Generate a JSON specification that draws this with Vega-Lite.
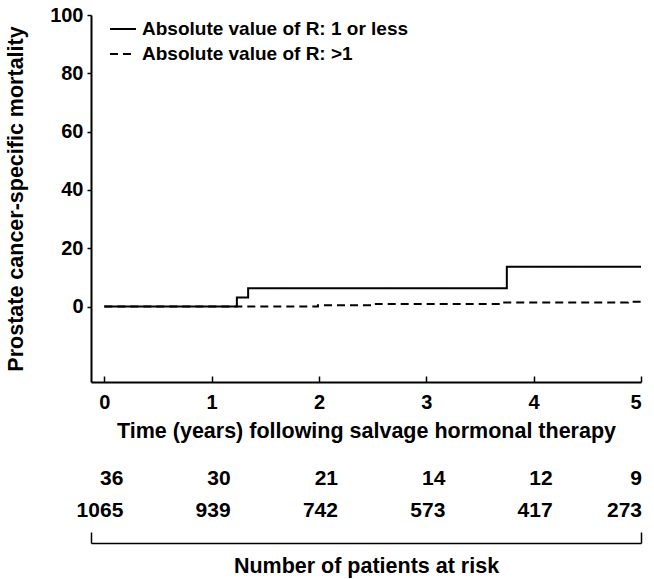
{
  "$schema": "https://vega.github.io/schema/vega-lite/v6.json",
  "background": "white",
  "padding": 5,
  "config": {
    "font": "Liberation Sans",
    "view": {"stroke": null},
    "concat": {"spacing": 5},
    "axis": {
      "labelFont": "Liberation Sans",
      "titleFont": "Liberation Sans",
      "labelFontWeight": "bold",
      "titleFontWeight": "bold",
      "labelColor": "black",
      "titleColor": "black",
      "domainColor": "black",
      "tickColor": "black",
      "grid": false,
      "domainWidth": 2,
      "tickWidth": 1.5
    }
  },
  "datasets": {
    "curves": [
      {"t": 0, "m": 0, "group": "Absolute value of R: 1 or less"},
      {"t": 1.235, "m": 3.1, "group": "Absolute value of R: 1 or less"},
      {"t": 1.34, "m": 6.3, "group": "Absolute value of R: 1 or less"},
      {"t": 3.75, "m": 13.6, "group": "Absolute value of R: 1 or less"},
      {"t": 5, "m": 13.6, "group": "Absolute value of R: 1 or less"},
      {"t": 0, "m": 0, "group": "Absolute value of R: >1"},
      {"t": 1.99, "m": 0.45, "group": "Absolute value of R: >1"},
      {"t": 2.53, "m": 0.9, "group": "Absolute value of R: >1"},
      {"t": 3.7, "m": 1.4, "group": "Absolute value of R: >1"},
      {"t": 4.88, "m": 1.6, "group": "Absolute value of R: >1"},
      {"t": 5, "m": 1.6, "group": "Absolute value of R: >1"}
    ],
    "risk": [
      {"t": 0, "n": 36, "group": "Absolute value of R: 1 or less"},
      {"t": 1, "n": 30, "group": "Absolute value of R: 1 or less"},
      {"t": 2, "n": 21, "group": "Absolute value of R: 1 or less"},
      {"t": 3, "n": 14, "group": "Absolute value of R: 1 or less"},
      {"t": 4, "n": 12, "group": "Absolute value of R: 1 or less"},
      {"t": 5, "n": 9, "group": "Absolute value of R: 1 or less"},
      {"t": 0, "n": 1065, "group": "Absolute value of R: >1"},
      {"t": 1, "n": 939, "group": "Absolute value of R: >1"},
      {"t": 2, "n": 742, "group": "Absolute value of R: >1"},
      {"t": 3, "n": 573, "group": "Absolute value of R: >1"},
      {"t": 4, "n": 417, "group": "Absolute value of R: >1"},
      {"t": 5, "n": 273, "group": "Absolute value of R: >1"}
    ]
  },
  "vconcat": [
    {
      "width": 550,
      "height": 367,
      "data": {"name": "curves"},
      "mark": {"type": "line", "interpolate": "step-after", "color": "black", "strokeWidth": 2},
      "encoding": {
        "x": {
          "field": "t",
          "type": "quantitative",
          "title": "Time (years) following salvage hormonal therapy",
          "scale": {"domain": [-0.124, 5], "nice": false, "zero": false},
          "axis": {"values": [0, 1, 2, 3, 4, 5], "format": "d", "tickSize": -6, "labelPadding": 16, "labelFontSize": 20, "titleFontSize": 21.5, "titlePadding": 8}
        },
        "y": {
          "field": "m",
          "type": "quantitative",
          "title": "Prostate cancer-specific mortality",
          "scale": {"domain": [-25.9, 100], "nice": false, "zero": false},
          "axis": {"values": [0, 20, 40, 60, 80, 100], "format": "d", "tickSize": 4, "labelPadding": 4, "labelFontSize": 20, "titleFontSize": 21.5, "titlePadding": 22}
        },
        "strokeDash": {
          "field": "group",
          "type": "nominal",
          "scale": {"domain": ["Absolute value of R: 1 or less", "Absolute value of R: >1"], "range": [[1, 0], [8, 5]]},
          "legend": {
            "orient": "none",
            "legendX": 18,
            "legendY": 0,
            "title": null,
            "symbolType": "stroke",
            "symbolSize": 676,
            "symbolStrokeWidth": 2,
            "symbolStrokeColor": "black",
            "labelFont": "Liberation Sans",
            "labelFontSize": 19,
            "labelFontWeight": "bold",
            "labelColor": "black",
            "labelOffset": 5,
            "labelLimit": 400,
            "rowPadding": 1
          }
        }
      }
    },
    {
      "width": 550,
      "height": 96,
      "data": {"name": "risk"},
      "encoding": {
        "x": {
          "field": "t",
          "type": "quantitative",
          "title": "Number of patients at risk",
          "scale": {"domain": [-0.124, 5], "nice": false, "zero": false},
          "axis": {"values": [-0.124, 5], "labels": false, "tickSize": -11, "domainWidth": 1.5, "titleFontSize": 21.5, "titlePadding": 12}
        },
        "y": {
          "field": "group",
          "type": "nominal",
          "scale": {"type": "point", "domain": ["Absolute value of R: 1 or less", "Absolute value of R: >1"], "padding": 1.14},
          "axis": null
        },
        "text": {"field": "n", "type": "quantitative"}
      },
      "layer": [
        {
          "transform": [{"filter": "datum.t < 5"}],
          "mark": {"type": "text", "align": "right", "baseline": "middle", "dx": 19, "fontSize": 21, "fontWeight": "bold", "color": "black"}
        },
        {
          "transform": [{"filter": "datum.t >= 5"}],
          "mark": {"type": "text", "align": "right", "baseline": "middle", "dx": 1, "fontSize": 21, "fontWeight": "bold", "color": "black"}
        }
      ]
    }
  ]
}
